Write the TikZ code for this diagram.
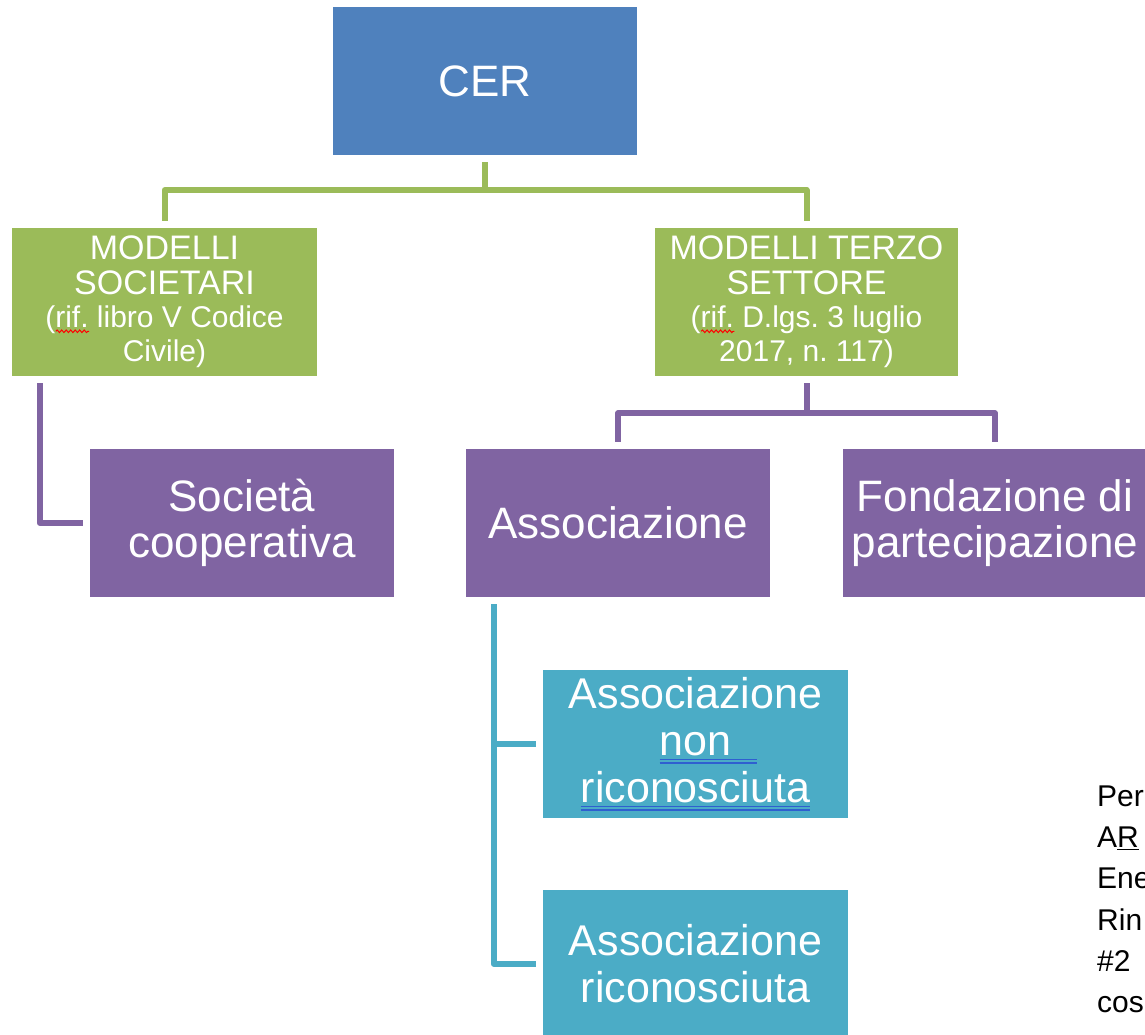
\documentclass[tikz,border=0pt]{standalone}
\usepackage{fontspec}
\setmainfont{Liberation Sans}
\usetikzlibrary{decorations.pathmorphing}
\definecolor{cblue}{HTML}{4F81BD}
\definecolor{cgreen}{HTML}{9BBB59}
\definecolor{cpurple}{HTML}{8064A2}
\definecolor{cteal}{HTML}{4BACC6}
\definecolor{ulblue}{HTML}{2F5FD0}
\newsavebox\ulbox
\newlength\ulextra
% double (grammar) underline, #2 = extra length to the right
\newcommand\dblux[2]{\leavevmode\sbox\ulbox{#1}\setlength\ulextra{\wd\ulbox}\addtolength\ulextra{#2}%
  \rlap{\color{ulblue}\rule[-5pt]{\ulextra}{1.3pt}}%
  \rlap{\color{ulblue}\rule[-8.3pt]{\ulextra}{1.3pt}}\usebox\ulbox}
% wavy red (spelling) underline
\newcommand\wavyu[1]{\leavevmode\sbox\ulbox{#1}%
  \rlap{\tikz[baseline=0pt,x=1pt,y=1pt]\draw[red, line width=1pt, decorate,
     decoration={snake, amplitude=1.3pt, segment length=4.5pt}] (0pt,-4pt) -- (\wd\ulbox,-4pt);}%
  \usebox\ulbox}
\begin{document}
\frenchspacing
\begin{tikzpicture}[x=1pt,y=-1pt,
  box/.style={draw=none, minimum width=304pt, minimum height=148pt, inner sep=0pt,
              align=flush center, text=white, text width=296pt},
  bigtxt/.style={font=\fontsize{44}{46}\selectfont},
  tealtxt/.style={font=\fontsize{43}{47}\selectfont},
  greentxt/.style={font=\fontsize{34}{34.5}\selectfont},
  conn/.style={line width=6pt, line join=round, shorten <=7pt, shorten >=7pt},
]
\fill[white] (0,0) rectangle (1145,1034);
\clip (0,0) rectangle (1145,1034);

% nodes
\node[box, fill=cblue, bigtxt] (cer) at (485,81) {CER};
\node[box, fill=cgreen, greentxt, minimum width=305pt] (ms) at (164.5,302)
  {MODELLI\\SOCIETARI\\\fontsize{30}{33}\selectfont(\wavyu{rif.} libro V Codice\\Civile)};
\node[box, fill=cgreen, greentxt, minimum width=303pt] (ts) at (806.5,302)
  {MODELLI TERZO\\SETTORE\\\fontsize{30}{33}\selectfont(\wavyu{rif.} D.lgs. 3 luglio\\2017, n. 117)};
\node[box, fill=cpurple, bigtxt] (soc) at (242,523) {Società\\cooperativa};
\node[box, fill=cpurple, bigtxt] (assoc) at (618,523) {Associazione};
\node[box, fill=cpurple, bigtxt] (fond) at (995,523) {Fondazione di\\partecipazione};
\node[box, fill=cteal, tealtxt, minimum width=305pt] (anr) at (695.5,744)
  {Associazione\\\dblux{non}{26pt}\\\dblux{riconosciuta}{0pt}};
\node[box, fill=cteal, tealtxt, minimum width=305pt] (ar) at (695.5,964)
  {Associazione\\riconosciuta};

% side note (cut off at the right edge)
\node[anchor=north west, align=left, inner sep=0pt, text=black,
      font=\fontsize{30}{41.3}\selectfont] (note) at (1097,785.5)
  {Per\\A\underline{R}\\Ene\\Rin\\\#2\\cos};

% connectors
\draw[conn, cgreen] (cer.south) -- ++(0,35) -| (ms.north);
\draw[conn, cgreen] (cer.south) -- ++(0,35) -| (ts.north);
\draw[conn, cpurple] ([xshift=28pt]ms.south west) |- (soc.west);
\draw[conn, cpurple] (ts.south) -- ++(0,37) -| (assoc.north);
\draw[conn, cpurple] (ts.south) -- ++(0,37) -| (fond.north);
\draw[conn, cteal] ([xshift=28pt]assoc.south west) |- (anr.west);
\draw[conn, cteal] ([xshift=28pt]assoc.south west) |- (ar.west);
\end{tikzpicture}
\end{document}
